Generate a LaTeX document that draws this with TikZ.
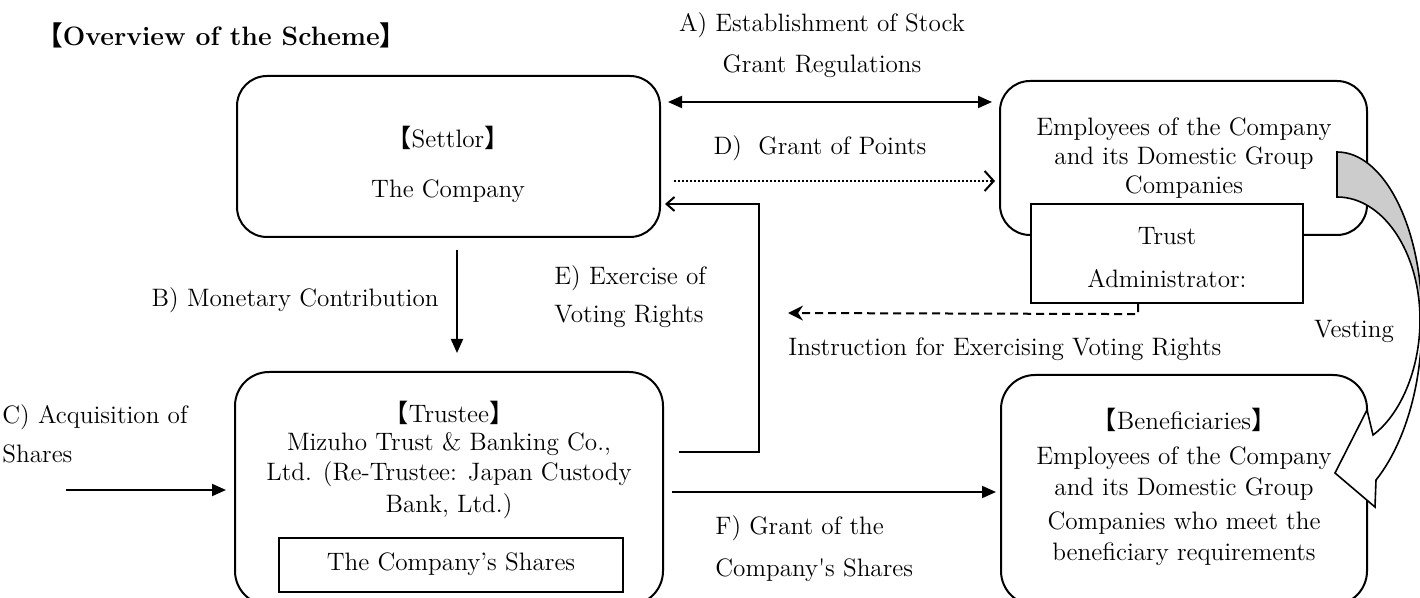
\documentclass[tikz,border=0pt]{standalone}
\usepackage{fontspec}
\newfontfamily\cjk{Noto Sans CJK JP}
\usetikzlibrary{arrows.meta,fit,calc}
\newcommand\lbr{{\cjk 【}}
\newcommand\rbr{{\cjk 】}}
\newcommand\fs{\fontsize{12.6}{15}\selectfont}
\begin{document}
\begin{tikzpicture}[x=0.5pt,y=-0.5pt,
  rbox/.style={draw, line width=1pt, inner sep=0pt, rounded corners=15pt},
  sbox/.style={draw, line width=1.1pt, inner sep=0pt, fill=white},
  txt/.style={font=\fs, inner sep=0pt, anchor=base},
  ltxt/.style={txt, anchor=base west},
  conn/.style={line width=1pt},
  tri/.style={-{Triangle[length=7pt,width=6pt]}},
  barb/.style={-{Straight Barb[length=4pt,width=7pt,line width=1pt]}},
  vest/.style={draw, line width=0.8pt, line join=miter},
]
\useasboundingbox (0,0) rectangle (1420,598);

% title
\node[ltxt, font=\fontsize{13.3}{16}\selectfont\bfseries] (title) at (36,46) {\lbr Overview of the Scheme\rbr};

% boxes
\node[rbox, fit={(237,76) (660,237)}] (settlor) {};
\node[rbox, fit={(1000,81) (1367,235)}] (emp) {};
\node[sbox, fit={(1031,204) (1303,303)}] (adm) {};
\node[rbox, rounded corners=17pt, fit={(235,372) (663,605)}] (trustee) {};
\node[draw, line width=1pt, inner sep=0pt, fit={(279,538) (623,592)}] (shares) {};
\node[rbox, rounded corners=17pt, fit={(1001,375) (1367,605)}] (benef) {};

% box texts
\node[txt] (setT1) at (448,148) {\lbr Settlor\rbr};
\node[txt] (setT2) at (448,198) {The Company};
\node[txt] (empT1) at (1184,136) {Employees of the Company};
\node[txt] (empT2) at (1184,165) {and its Domestic Group};
\node[txt] (empT3) at (1184,194) {Companies};
\node[txt] (admT1) at (1167,245) {Trust};
\node[txt] (admT2) at (1167,288) {Administrator:};
\node[txt] (truT1) at (449,423) {\lbr Trustee\rbr};
\node[txt] (truT2) at (449,451) {Mizuho Trust \& Banking Co.,};
\node[txt] (truT3) at (449,481) {Ltd. (Re-Trustee: Japan Custody};
\node[txt] (truT4) at (449,513) {Bank, Ltd.)};
\node[txt] (shT) at (451,571) {The Company’s Shares};
\node[txt] (benT1) at (1184,430) {\lbr Beneficiaries\rbr};
\node[txt] (benT2) at (1184,465) {Employees of the Company};
\node[txt] (benT3) at (1184,496) {and its Domestic Group};
\node[txt] (benT4) at (1184,530) {Companies who meet the};
\node[txt] (benT5) at (1184,561) {beneficiary requirements};

% connector labels
\node[txt] (aT1) at (822,32) {A) Establishment of Stock};
\node[txt] (aT2) at (822,73) {Grant Regulations};
\node[txt] (dT) at (820,155) {D)\ \ Grant of Points};
\node[txt, anchor=base east] (bT) at (439,307) {B) Monetary Contribution};
\node[ltxt] (eT1) at (554,285) {E) Exercise of};
\node[ltxt] (eT2) at (554,323) {Voting Rights};
\node[ltxt] (cT1) at (2,424) {C) Acquisition of};
\node[ltxt] (cT2) at (2,463) {Shares};
\node[ltxt] (iT) at (788,356) {Instruction for Exercising Voting Rights};
\node[txt] (vT) at (1354,338) {Vesting};
\node[ltxt] (fT1) at (715,535) {F) Grant of the};
\node[ltxt] (fT2) at (715,577) {Company\textquotesingle s Shares};

% connectors
\draw[conn, {Triangle[length=7pt,width=6pt]}-{Triangle[length=7pt,width=6pt]}]
  ($(settlor.north east)+(7,27)$) -- ($(emp.north west)+(-7,22)$);
\draw[conn, dash pattern=on 1pt off 1pt, -{Straight Barb[length=4.5pt,width=10pt,line width=1pt]}]
  ($(settlor.north east)+(13,106)$) -- ($(emp.north west)+(-4,101)$);
\draw[conn, tri] ($(settlor.south)+(8.5,12)$) -- ($(trustee.north)+(8,-18)$);
\coordinate (eS) at (679,452);
\coordinate (eK1) at (759,452);
\coordinate (eK2) at (759,204);
\draw[conn, barb] (eS) -- (eK1) -- (eK2) -- ($(settlor.east)+(4,47.5)$);
\coordinate (iE) at (788,313);
\draw[conn, dash pattern=on 4pt off 2.5pt, -{Stealth[length=7.5pt,width=7.5pt]}]
  ($(adm.south)+(-29,0)$) -- ($(adm.south)+(-29,10)$) -- (iE);
\coordinate (cS) at (66,490);
\draw[conn, tri] (cS) -- ($(trustee.west)+(-8,1.5)$);
\draw[conn, tri] ($(trustee.east)+(8,3.5)$) -- ($(benef.west)+(-4,2)$);

% vesting curved arrow
\path[vest, fill=gray!40] (1337,152) .. controls (1384,152) and (1422,227) .. (1422,320)
  -- (1420,320) .. controls (1420,252) and (1383,197) .. (1337,197) -- cycle;
\path[vest, fill=white] (1420,320) .. controls (1420,370) and (1400,415) .. (1373,435)
  -- (1367,410) -- (1335,473) -- (1375,507) -- (1376,480)
  .. controls (1400,450) and (1422,395) .. (1422,320) -- cycle;
\end{tikzpicture}
\end{document}
